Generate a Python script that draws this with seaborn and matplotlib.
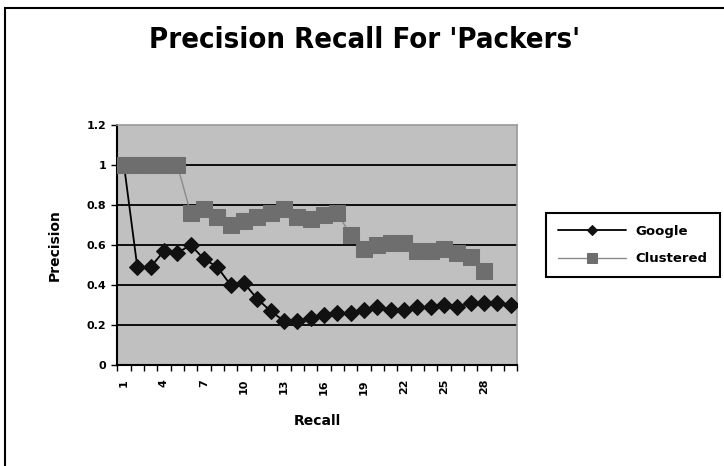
import numpy as np
import pandas as pd
import matplotlib
matplotlib.use("Agg")
import matplotlib.pyplot as plt
from matplotlib.patches import Rectangle
import seaborn as sns

# ---- data ----
recall = list(range(1, 31))
google = [1.0, 0.49, 0.49, 0.57, 0.56, 0.60, 0.53, 0.49, 0.40, 0.41,
          0.33, 0.27, 0.22, 0.22, 0.235, 0.25, 0.26, 0.26, 0.275, 0.29,
          0.275, 0.275, 0.29, 0.29, 0.30, 0.29, 0.31, 0.31, 0.31, 0.30]
clustered = [1.0, 1.0, 1.0, 1.0, 1.0, 0.76, 0.78, 0.74, 0.70, 0.72,
             0.74, 0.76, 0.78, 0.74, 0.73, 0.75, 0.76, 0.65, 0.58, 0.60,
             0.61, 0.61, 0.57, 0.57, 0.58, 0.56, 0.54, 0.47]
y_ticks = [0, 0.2, 0.4, 0.6, 0.8, 1.0, 1.2]
y_tick_labels = ["0", "0.2", "0.4", "0.6", "0.8", "1", "1.2"]
x_label_positions = list(range(1, 31, 3))
title = "Precision Recall For 'Packers'"

df_g = pd.DataFrame({"Recall": recall, "Precision": google})
df_c = pd.DataFrame({"Recall": recall[:len(clustered)], "Precision": clustered})

sns.set_style("white")
plt.rcParams["font.family"] = ["DejaVu Sans"]
plt.rcParams["text.color"] = "black"
plt.rcParams["axes.labelcolor"] = "black"
plt.rcParams["xtick.color"] = "black"
plt.rcParams["ytick.color"] = "black"

fig = plt.figure(figsize=(7.24, 4.66), dpi=100)
ax = fig.add_axes([117.3 / 724, 1 - 365 / 466, 400 / 724, 240 / 466])
ax.set_facecolor("#C0C0C0")

# horizontal gridlines
for v in y_ticks[1:-1]:
    ax.axhline(v, color="black", lw=1.3, zorder=1)

sns.lineplot(data=df_g, x="Recall", y="Precision", ax=ax, color="black",
             lw=1.3, marker="D", markersize=8, markerfacecolor="#111111",
             markeredgecolor="#111111", label="Google", zorder=3)
sns.lineplot(data=df_c, x="Recall", y="Precision", ax=ax, color="#8a8a8a",
             lw=1.0, marker="s", markersize=11, markerfacecolor="#6e6e6e",
             markeredgecolor="#6e6e6e", label="Clustered", zorder=4)

ax.set_xlim(0.5, 30.5)
ax.set_ylim(0, 1.2)

# y axis
ax.set_yticks(y_ticks)
ax.set_yticklabels(y_tick_labels, fontsize=8, fontweight="bold")
ax.tick_params(axis="y", direction="out", length=4, width=1, pad=4, left=True)

# x axis: labels at category centres, tick marks at boundaries
ax.set_xticks(x_label_positions)
ax.set_xticklabels([str(v) for v in x_label_positions], rotation=90,
                   fontsize=8, fontweight="bold")
ax.set_xticks(np.arange(0.5, 31, 1.0), minor=True)
ax.tick_params(axis="x", which="major", length=0, pad=10, bottom=True)
ax.tick_params(axis="x", which="minor", direction="out", length=4, width=1,
               bottom=True)

for s in ["left", "bottom"]:
    ax.spines[s].set_color("black")
    ax.spines[s].set_linewidth(1.5)
for s in ["top", "right"]:
    ax.spines[s].set_color("#9a9a9a")
    ax.spines[s].set_linewidth(1.2)

ax.set_xlabel("Recall", fontsize=10, fontweight="bold", labelpad=14)
ax.set_ylabel("Precision", fontsize=10, fontweight="bold", labelpad=18)

fig.text(365 / 724, 1 - 40 / 466, title, ha="center", va="center",
         fontsize=21, fontweight="bold", fontstretch="condensed",
         family=["DejaVu Sans"])

# legend
handles, labels = ax.get_legend_handles_labels()
order = [labels.index("Google"), labels.index("Clustered")]
leg = ax.legend([handles[i] for i in order], [labels[i] for i in order],
                loc="center left", bbox_to_anchor=(546 / 724, 1 - 245 / 466),
                bbox_transform=fig.transFigure, frameon=True, fancybox=False,
                edgecolor="black", framealpha=1, markerscale=0.7,
                borderaxespad=0,
                prop={"size": 9.5, "weight": "bold"}, handlelength=5.2,
                borderpad=0.9, labelspacing=1.1, handletextpad=0.7)
leg.get_frame().set_linewidth(1.5)

# outer chart border (left and top visible)
fig.patches.append(Rectangle((5 / 724, -0.5), 2.0, 1 - 8 / 466 + 0.5,
                             transform=fig.transFigure, fill=False,
                             edgecolor="black", lw=1.5))

fig.savefig("out.png", dpi=100)
